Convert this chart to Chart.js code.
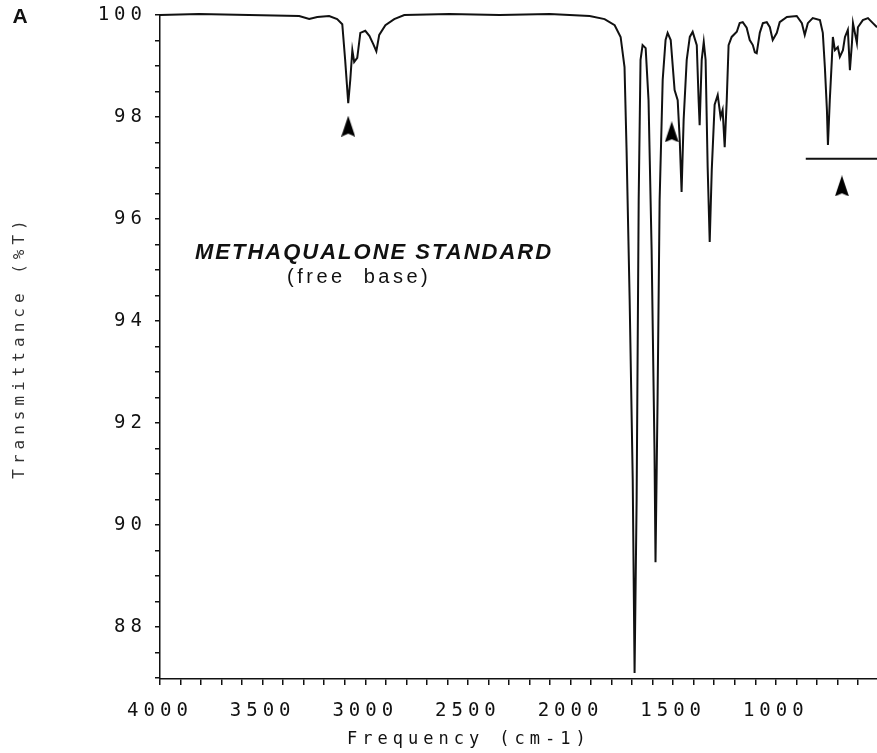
<!DOCTYPE html>
<html>
<head>
<meta charset="utf-8">
<title>Methaqualone IR</title>
<script src="https://cdn.jsdelivr.net/npm/chart.js@4.4.1/dist/chart.umd.min.js"></script>
<style>
  html, body { margin: 0; padding: 0; background: #fff; }
</style>
</head>
<body>
<canvas id="irChart" width="877" height="753"></canvas>
<script>
// spectrum (cm-1 / %T)
const wavenumbers = [
  4000, 3810, 3566, 3322, 3273, 3234, 3176, 3137, 3112, 3098, 3083, 3073, 3063, 3054, 3039,
  3024, 3000, 2980, 2961, 2946, 2932, 2902, 2859, 2810, 2590, 2346, 2102, 1907, 1834, 1785,
  1756, 1737, 1727, 1712, 1697, 1688, 1678, 1668, 1659, 1649, 1634, 1620, 1605, 1591, 1586,
  1576, 1566, 1551, 1537, 1527, 1512, 1493, 1478, 1468, 1459, 1449, 1434, 1419, 1405, 1385,
  1376, 1371, 1361, 1351, 1342, 1332, 1322, 1312, 1298, 1283, 1269, 1259, 1249, 1239, 1230,
  1215, 1190, 1176, 1161, 1142, 1127, 1112, 1102, 1093, 1078, 1063, 1044, 1029, 1015, 995,
  981, 946, 898, 873, 859, 844, 820, 785, 771, 761, 751, 746, 737, 727, 722,
  712, 698, 688, 673, 663, 649, 639, 629, 624, 605, 600, 576, 551, 527, 507
];
const transmittance = [
  100.0, 100.02, 100.0, 99.98, 99.92, 99.96, 99.98, 99.92, 99.82, 99.12, 98.27, 98.73, 99.31, 99.08, 99.16,
  99.65, 99.69, 99.59, 99.43, 99.29, 99.61, 99.8, 99.92, 100.0, 100.02, 100.0, 100.02, 99.98, 99.92, 99.8,
  99.57, 98.98, 97.35, 94.41, 90.88, 87.1, 90.5, 96.37, 99.12, 99.41, 99.35, 98.33, 95.39, 91.47, 89.27,
  92.45, 96.37, 98.73, 99.51, 99.65, 99.51, 98.53, 98.33, 97.55, 96.53, 97.94, 99.12, 99.57, 99.67, 99.41,
  98.33, 97.84, 99.12, 99.47, 99.12, 97.02, 95.55, 96.96, 98.24, 98.43, 98.0, 98.14, 97.41, 98.33, 99.41,
  99.57, 99.67, 99.84, 99.86, 99.75, 99.51, 99.41, 99.27, 99.25, 99.65, 99.84, 99.86, 99.76, 99.51, 99.65,
  99.86, 99.96, 99.98, 99.84, 99.61, 99.84, 99.94, 99.9, 99.65, 98.98, 98.14, 97.45, 98.33, 99.12, 99.57,
  99.31, 99.37, 99.18, 99.31, 99.57, 99.71, 98.92, 99.45, 99.84, 99.45, 99.76, 99.9, 99.94, 99.84, 99.76
];

const xTickLabels = [4000, 3500, 3000, 2500, 2000, 1500, 1000];
const yTickLabels = [88, 90, 92, 94, 96, 98, 100];

// arrow heads and the short reference line drawn under the 700 band
const arrowWavenumbers = [3083, 1507, 678];
const arrowHeights = [97.82, 97.71, 96.65];
const baselineWavenumbers = [854, 507];
const baselineHeights = [97.18, 97.18];

const sampleName = "METHAQUALONE STANDARD";
const sampleForm = "(free  base)";
const panelLetter = "A";
const xTitle = "Frequency (cm-1)";
const yTitle = "Transmittance (%T)";

const plotterFont = "'DejaVu Sans Mono', monospace";
const ink = '#111111';

Chart.defaults.font.family = plotterFont;
Chart.defaults.color = ink;

// notched arrow head used as point style
const arrowHead = document.createElement('canvas');
arrowHead.width = 14;
arrowHead.height = 21;
(function () {
    const a = arrowHead.getContext('2d');
    a.fillStyle = '#000';
    a.beginPath();
    a.moveTo(7, 0);
    a.lineTo(14, 21);
    a.lineTo(7, 18);
    a.lineTo(0, 21);
    a.closePath();
    a.fill();
})();

// the old plotter lettering is widely spaced
const spacingPlugin = {
    id: 'plotterSpacing',
    beforeUpdate(chart) { chart.ctx.letterSpacing = '5px'; },
    beforeDraw(chart) { chart.ctx.letterSpacing = '5px'; }
};

const labelsPlugin = {
    id: 'extraLabels',
    afterDraw(chart) {
        const ctx = chart.ctx;
        ctx.save();
        ctx.fillStyle = ink;
        ctx.textBaseline = 'middle';

        ctx.letterSpacing = '5px';
        ctx.font = "17px " + plotterFont;
        ctx.textAlign = 'left';
        ctx.fillText(xTitle, 347, 740);

        ctx.letterSpacing = '0px';
        ctx.font = "bold 21px 'Liberation Sans', Arial, sans-serif";
        ctx.textAlign = 'center';
        ctx.fillText(panelLetter, 20, 17);

        ctx.textAlign = 'left';
        ctx.letterSpacing = '2px';
        ctx.font = "italic bold 22px 'Liberation Sans', Arial, sans-serif";
        ctx.fillText(sampleName, 195, 253);
        ctx.letterSpacing = '3.5px';
        ctx.font = "20px 'Liberation Sans', Arial, sans-serif";
        ctx.fillText(sampleForm, 287, 277);
        ctx.restore();
    }
};

const ctx = document.getElementById('irChart').getContext('2d');

const spectrum = wavenumbers.map((w, i) => ({ x: w, y: transmittance[i] }));
const arrows = arrowWavenumbers.map((w, i) => ({ x: w, y: arrowHeights[i] }));
const baseline = baselineWavenumbers.map((w, i) => ({ x: w, y: baselineHeights[i] }));

const irChart = new Chart(ctx, {
    type: 'line',
    data: {
        datasets: [
            {
                data: spectrum,
                borderColor: ink,
                borderWidth: 2,
                pointRadius: 0,
                tension: 0,
                clip: false
            },
            {
                data: baseline,
                borderColor: ink,
                borderWidth: 2,
                pointRadius: 0
            },
            {
                data: arrows,
                showLine: false,
                pointStyle: arrowHead,
                pointRadius: 10
            }
        ]
    },
    options: {
        responsive: false,
        animation: false,
        layout: { autoPadding: false, padding: { top: 15, right: 0, bottom: 0, left: 0 } },
        plugins: {
            legend: { display: false },
            tooltip: { enabled: false }
        },
        scales: {
            x: {
                type: 'linear',
                reverse: true,
                min: 507,
                max: 4000,
                border: { color: ink, width: 1.5 },
                grid: { drawOnChartArea: false, tickLength: 6, color: ink, lineWidth: 1.5 },
                ticks: {
                    autoSkip: false,
                    maxRotation: 0,
                    padding: 15,
                    font: { size: 19 },
                    color: ink,
                    callback: v => xTickLabels.includes(v) ? String(v) : ''
                },
                afterBuildTicks: scale => {
                    const t = [];
                    for (let v = 4000; v >= 600; v -= 100) t.push({ value: v });
                    scale.ticks = t;
                },
                afterFit: scale => {
                    scale.height = 74;
                    scale.paddingLeft = 0;
                    scale.paddingRight = 0;
                }
            },
            y: {
                min: 86.98,
                max: 100,
                border: { color: ink, width: 1.5 },
                grid: { drawOnChartArea: false, tickLength: 5, color: ink, lineWidth: 1.5 },
                ticks: {
                    autoSkip: false,
                    padding: 8,
                    font: { size: 19 },
                    color: ink,
                    callback: v => yTickLabels.includes(v) ? String(v) : ''
                },
                afterBuildTicks: scale => {
                    const t = [];
                    for (let v = 87; v <= 100; v += 0.5) t.push({ value: v });
                    scale.ticks = t;
                },
                title: {
                    display: true,
                    text: yTitle,
                    font: { size: 16 },
                    color: '#333333',
                    padding: { top: 10, bottom: 0 }
                },
                afterFit: scale => {
                    scale.width = 160;
                    scale.paddingTop = 0;
                    scale.paddingBottom = 0;
                }
            }
        }
    },
    plugins: [spacingPlugin, labelsPlugin]
});
</script>
</body>
</html>
